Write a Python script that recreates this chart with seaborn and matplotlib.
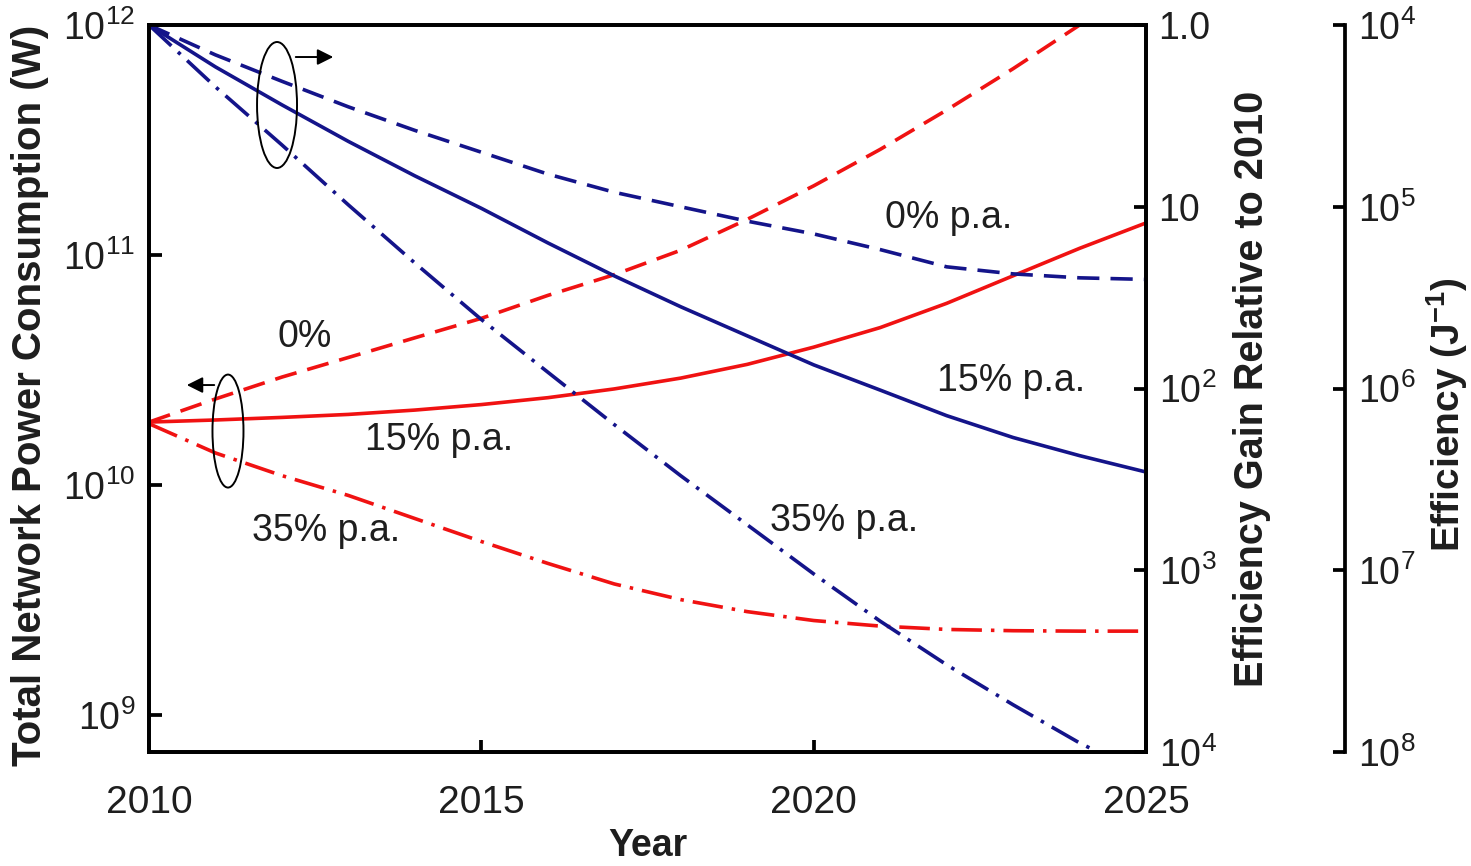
import matplotlib
matplotlib.use("Agg")
import matplotlib.pyplot as plt
from matplotlib.patches import Ellipse
from matplotlib.ticker import FixedLocator, FixedFormatter, NullLocator
import seaborn as sns
import pandas as pd

# ---------------- data ----------------
years = [2010, 2011, 2012, 2013, 2014, 2015, 2016, 2017,
         2018, 2019, 2020, 2021, 2022, 2023, 2024, 2025]

# Total network power consumption (W), left axis (red)
power_0pct = [1.88e10, 2.37e10, 2.95e10, 3.59e10, 4.37e10, 5.31e10, 6.68e10, 8.22e10,
              1.05e11, 1.43e11, 2.00e11, 2.88e11, 4.27e11, 6.46e11, 1.00e12, 1.58e12]
power_15pct = [1.88e10, 1.92e10, 1.97e10, 2.03e10, 2.12e10, 2.24e10, 2.40e10, 2.62e10,
               2.92e10, 3.35e10, 3.98e10, 4.84e10, 6.17e10, 8.13e10, 1.07e11, 1.38e11]
power_35pct = [1.85e10, 1.38e10, 1.10e10, 9.02e9, 7.16e9, 5.69e9, 4.57e9, 3.72e9,
               3.18e9, 2.82e9, 2.58e9, 2.44e9, 2.36e9, 2.33e9, 2.32e9, 2.32e9]

# Efficiency gain relative to 2010, right axis (blue)
gain_0pct = [1.0, 1.46, 2.04, 2.82, 3.80, 5.01, 6.61, 8.32,
             10.0, 12.0, 14.1, 17.2, 21.4, 23.4, 24.6, 25.1]
gain_15pct = [1.0, 1.70, 2.75, 4.37, 6.76, 10.2, 15.8, 24.0,
              35.5, 51.3, 74.1, 102, 141, 186, 234, 288]
gain_35pct = [1.0, 2.19, 4.57, 9.77, 20.4, 41.7, 81.3, 158,
              302, 562, 1047, 1905, 3311, 5495, 8913, 13490]

x_ticks = [2010, 2015, 2020, 2025]
left_ticks = [1e9, 1e10, 1e11, 1e12]
left_labels = [r"$10^9$", r"$10^{10}$", r"$10^{11}$", r"$10^{12}$"]
gain_ticks = [1, 10, 100, 1000, 10000]
gain_labels = ["1.0", "10", r"$10^2$", r"$10^3$", r"$10^4$"]
eff_ticks = [1e4, 1e5, 1e6, 1e7, 1e8]
eff_labels = [r"$10^4$", r"$10^5$", r"$10^6$", r"$10^7$", r"$10^8$"]

# ---------------- style ----------------
sns.set_theme(style="ticks")
plt.rcParams["font.family"] = ["Liberation Sans", "DejaVu Sans"]
plt.rcParams["mathtext.fontset"] = "custom"
plt.rcParams["mathtext.rm"] = "Liberation Sans"
plt.rcParams["mathtext.it"] = "Liberation Sans:italic"
plt.rcParams["mathtext.bf"] = "Liberation Sans:bold"
plt.rcParams["lines.scale_dashes"] = False

RED = "#f01212"
BLUE = "#14148a"
TXT = "#1e1e1e"
LW = 2.6
SPW = 2.7
YTS = 27

fig = plt.figure(figsize=(14.71, 8.66), dpi=100)
ax = fig.add_axes([0.1013, 0.1316, 0.6778, 0.8395])
ax2 = ax.twinx()
ax3 = ax.twinx()

df_p = pd.DataFrame({"year": years, "p0": power_0pct, "p15": power_15pct, "p35": power_35pct})
df_g = pd.DataFrame({"year": years, "g0": gain_0pct, "g15": gain_15pct, "g35": gain_35pct})

dash = (0, (16, 8))
dashdot = (0, (22, 6.5, 2.5, 6.5))

sns.lineplot(data=df_p, x="year", y="p0", ax=ax, color=RED, lw=LW, linestyle=dash)
sns.lineplot(data=df_p, x="year", y="p15", ax=ax, color=RED, lw=LW, linestyle="-")
sns.lineplot(data=df_p, x="year", y="p35", ax=ax, color=RED, lw=LW, linestyle=dashdot)

sns.lineplot(data=df_g, x="year", y="g0", ax=ax2, color=BLUE, lw=LW, linestyle=dash)
sns.lineplot(data=df_g, x="year", y="g15", ax=ax2, color=BLUE, lw=LW, linestyle="-")
sns.lineplot(data=df_g, x="year", y="g35", ax=ax2, color=BLUE, lw=LW, linestyle=dashdot)

# ---- left axis ----
ax.set_yscale("log")
ax.set_ylim(10 ** 8.84, 1e12)
ax.set_xlim(2010, 2025)
ax.xaxis.set_major_locator(FixedLocator(x_ticks))
ax.set_xticklabels([str(t) for t in x_ticks])
ax.yaxis.set_major_locator(FixedLocator(left_ticks))
ax.yaxis.set_major_formatter(FixedFormatter(left_labels))
ax.yaxis.set_minor_locator(NullLocator())
ax.tick_params(axis="y", direction="in", length=9, width=SPW, labelsize=YTS, pad=10, colors="black", labelcolor=TXT)
ax.tick_params(axis="x", direction="in", length=9, width=SPW, labelsize=28, pad=24, colors="black", labelcolor=TXT)
ax.set_xlabel("Year", fontsize=27, fontweight="bold", color=TXT, labelpad=5)
ax.set_ylabel("Total Network Power Consumption (W)", fontsize=29, fontweight="bold", color=TXT, va="center")
ax.yaxis.set_label_coords(-0.119, 0.49)
for s in ax.spines.values():
    s.set_linewidth(SPW)
    s.set_color("black")

# ---- right axis 1: efficiency gain ----
ax2.set_yscale("log")
ax2.set_ylim(1e4, 1.0)
ax2.yaxis.set_major_locator(FixedLocator(gain_ticks))
ax2.yaxis.set_major_formatter(FixedFormatter(gain_labels))
ax2.yaxis.set_minor_locator(NullLocator())
ax2.tick_params(axis="y", direction="in", length=9, width=SPW, labelsize=YTS, pad=9, colors="black", labelcolor=TXT)
ax2.set_ylabel("Efficiency Gain Relative to 2010", fontsize=28.5, fontweight="bold", color=TXT, va="center")
ax2.yaxis.set_label_coords(1.106, 0.5)
for s in ax2.spines.values():
    s.set_linewidth(SPW)
    s.set_color("black")

# ---- right axis 2: efficiency ----
ax3.set_yscale("log")
ax3.set_ylim(1e8, 1e4)
ax3.spines["right"].set_position(("axes", 1.2))
for k in ["left", "top", "bottom"]:
    ax3.spines[k].set_visible(False)
ax3.spines["right"].set_linewidth(SPW)
ax3.spines["right"].set_color("black")
ax3.yaxis.set_major_locator(FixedLocator(eff_ticks))
ax3.yaxis.set_major_formatter(FixedFormatter(eff_labels))
ax3.yaxis.set_minor_locator(NullLocator())
ax3.tick_params(axis="y", direction="in", length=9, width=SPW, labelsize=YTS, pad=9, colors="black", labelcolor=TXT)
ax3.set_ylabel(r"Efficiency (J$^{\mathbf{-1}}$)", fontsize=28, fontweight="bold", color=TXT, va="center")
ax3.yaxis.set_label_coords(1.302, 0.464)

# ---- annotations ----
ann = dict(transform=ax.transAxes, fontsize=27, color=TXT, ha="left", va="center")
ax.text(0.738, 0.7345, "0% p.a.", **ann)
ax.text(0.790, 0.510, "15% p.a.", **ann)
ax.text(0.623, 0.318, "35% p.a.", **ann)
ax.text(0.129, 0.571, "0%", **ann)
ax.text(0.2167, 0.429, "15% p.a.", **ann)
ax.text(0.103, 0.304, "35% p.a.", **ann)

ax2.add_patch(Ellipse((0.1284, 0.890), 0.0401, 0.1733, transform=ax.transAxes,
                      fill=False, edgecolor="black", lw=1.4, clip_on=False, zorder=5))
ax2.add_patch(Ellipse((0.0792, 0.4415), 0.0311, 0.1554, transform=ax.transAxes,
                      fill=False, edgecolor="black", lw=1.4, clip_on=False, zorder=5))
ax2.annotate("", xy=(0.1876, 0.956), xytext=(0.1444, 0.956), xycoords=ax.transAxes,
             arrowprops=dict(arrowstyle="-|>", color="black", lw=1.4, mutation_scale=24))
ax2.annotate("", xy=(0.0351, 0.5048), xytext=(0.0682, 0.5048), xycoords=ax.transAxes,
             arrowprops=dict(arrowstyle="-|>", color="black", lw=1.4, mutation_scale=24))

fig.savefig("out.png", dpi=100, facecolor="white")
